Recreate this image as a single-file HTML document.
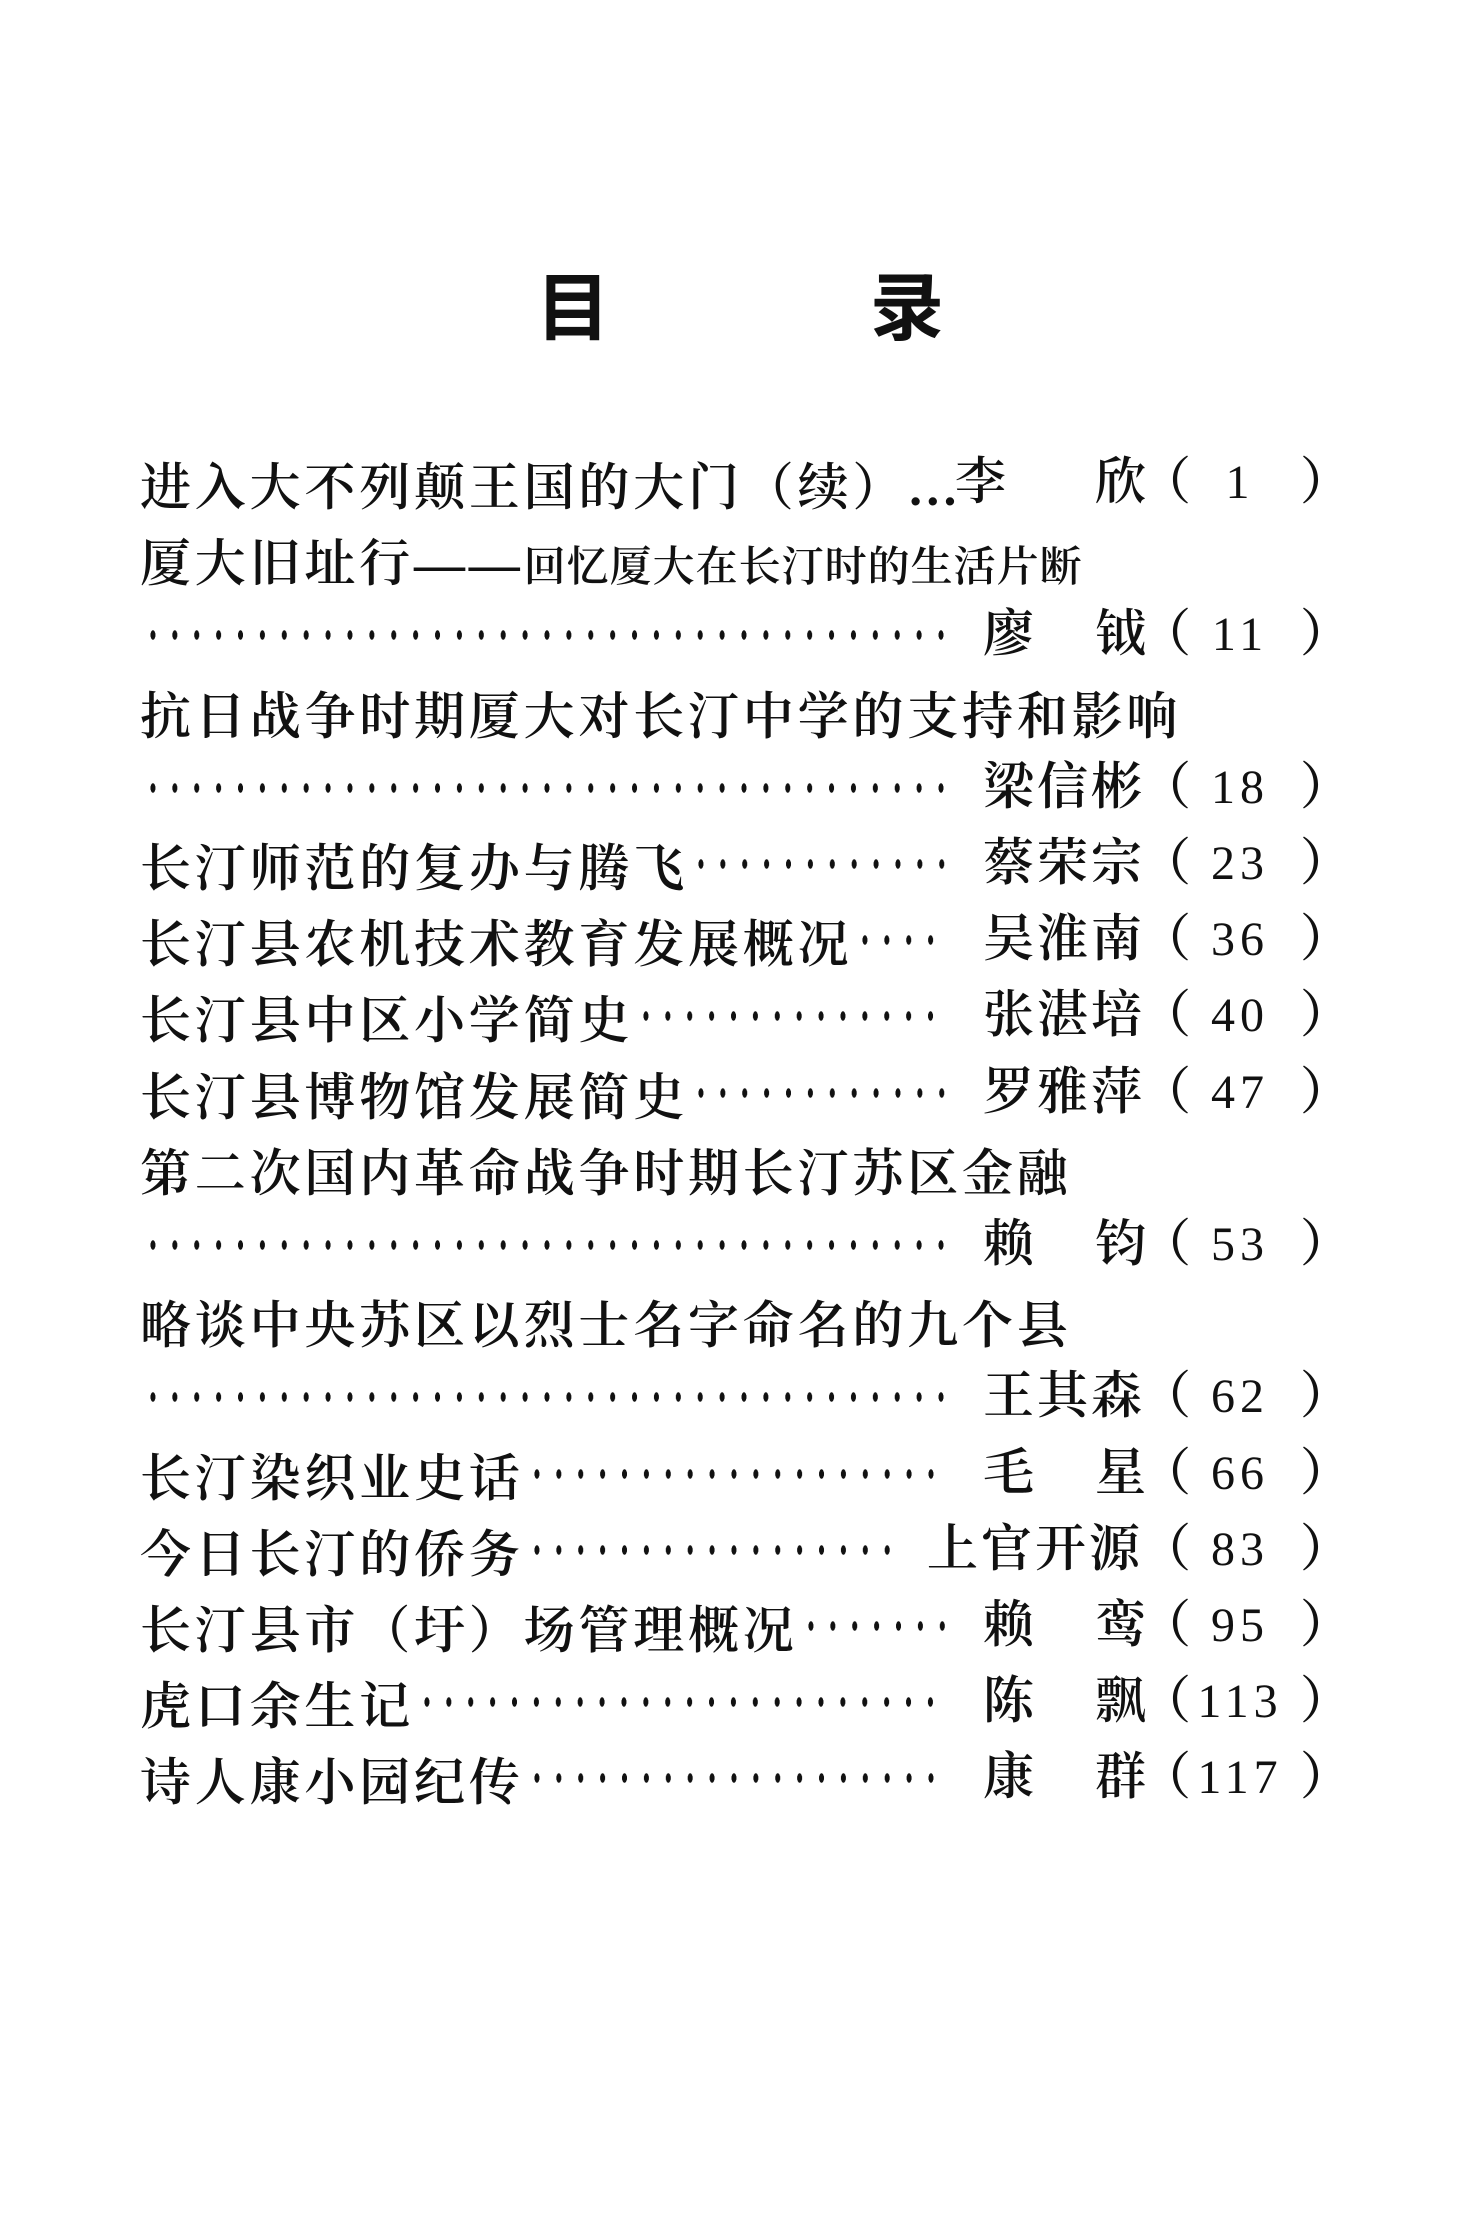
<!DOCTYPE html>
<html><head><meta charset="utf-8">
<style>
html,body{margin:0;padding:0;background:#fff;}
body{width:1474px;height:2223px;position:relative;overflow:hidden;color:#111;
font-family:"Liberation Serif","Noto Serif CJK SC",serif;font-weight:600;}
.t{position:absolute;font-size:74px;font-weight:bold;line-height:1;font-family:"Noto Sans CJK SC",sans-serif;}
.l{position:absolute;left:140px;width:802px;display:flex;align-items:center;height:60px;font-size:51px;white-space:nowrap;letter-spacing:3.8px;}
.d{flex:1;height:12px;margin-left:2px;background:radial-gradient(ellipse 2.6px 5px,#111 90%,transparent 100%) 0 0/21.9px 12px repeat-x;}
.a{position:absolute;height:60px;line-height:60px;font-size:51px;}
</style></head><body>
<div class="t" style="left:536px;top:266px">目</div>
<div class="t" style="left:870px;top:266px">录</div>
</body>
<script>
const rows=[
["进入大不列颠王国的大门（续）…",0,["李",955],["欣",1095],"1"],
["厦大旧址行——<span style='font-size:42px;letter-spacing:1px'>回忆厦大在长汀时的生活片断</span>",0],
["",1,["廖",983],["钺",1095],"11"],
["抗日战争时期厦大对长汀中学的支持和影响",0],
["",1,["梁信彬",983],null,"18"],
["长汀师范的复办与腾飞",1,["蔡荣宗",983],null,"23"],
["长汀县农机技术教育发展概况",1,["吴淮南",983],null,"36"],
["长汀县中区小学简史",1,["张湛培",983],null,"40"],
["长汀县博物馆发展简史",1,["罗雅萍",983],null,"47"],
["第二次国内革命战争时期长汀苏区金融",0],
["",1,["赖",983],["钧",1095],"53"],
["略谈中央苏区以烈士名字命名的九个县",0],
["",1,["王其森",983],null,"62"],
["长汀染织业史话",1,["毛",983],["星",1095],"66"],
["今日长汀的侨务",2,["上官开源",927],null,"83"],
["长汀县市（圩）场管理概况",1,["赖",983],["鸾",1095],"95"],
["虎口余生记",1,["陈",983],["飘",1095],"113"],
["诗人康小园纪传",1,["康",983],["群",1095],"117"]
];
let h="";
rows.forEach((r,i)=>{
 const y=Math.round(483+76.2*i-30);
 const w=r[1]==2?750:806;
 h+=`<div class="l" style="top:${y}px;width:${w}px"><span>${r[0]}</span>${r[1]?'<span class="d"></span>':''}</div>`;
 if(r[2]) h+=`<div class="a" style="top:${y}px;left:${r[2][1]}px;letter-spacing:3px">${r[2][0]}</div>`;
 if(r[3]) h+=`<div class="a" style="top:${y}px;left:${r[3][1]}px">${r[3][0]}</div>`;
 if(r[4]){
  h+=`<div class="a" style="top:${y}px;left:1140px">（</div>`;
  h+=`<div class="a" style="top:${y}px;left:1185px;width:110px;text-align:center;font-size:48px;letter-spacing:5px;font-weight:normal">${r[4]}</div>`;
  h+=`<div class="a" style="top:${y}px;left:1300px">）</div>`;
 }
});
document.body.insertAdjacentHTML("beforeend",h);
</script>
</html>
